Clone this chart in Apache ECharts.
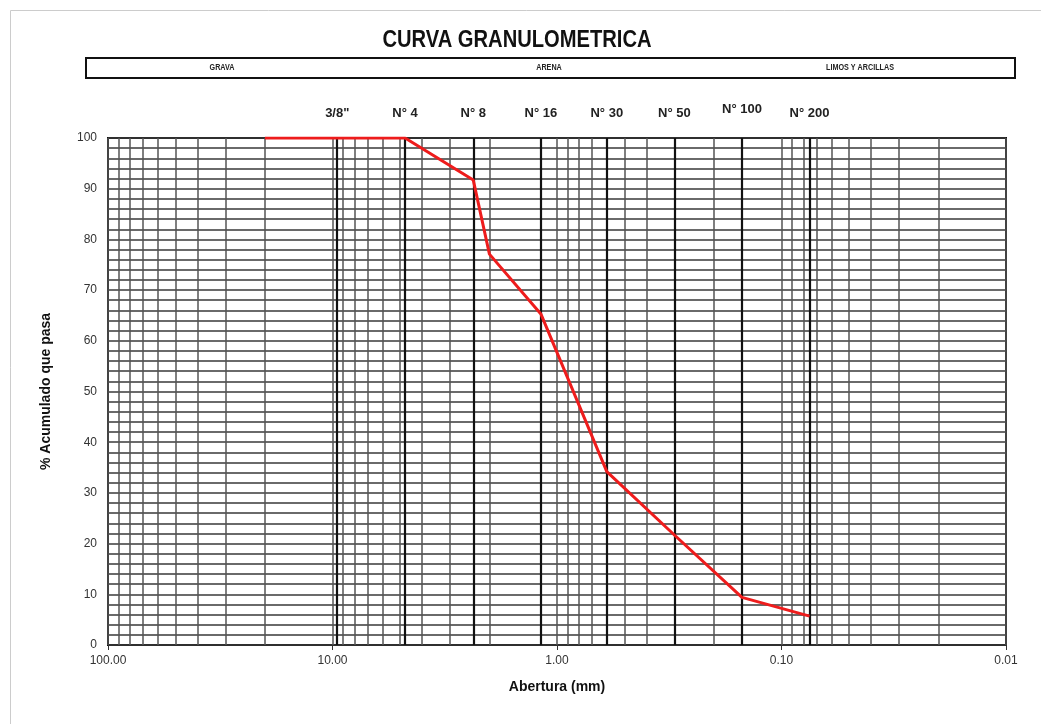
<!DOCTYPE html>
<html>
<head>
<meta charset="utf-8">
<style>html,body{margin:0;padding:0;background:#fff;}#c{width:1041px;height:724px;}</style>
<script src="https://cdn.jsdelivr.net/npm/echarts@6/dist/echarts.min.js"></script>
</head>
<body>
<div id="c"></div>
<script>
// Data
var sieveSizes = [20, 9.525, 4.75, 2.36, 2.0, 1.18, 0.6, 0.3, 0.15, 0.075];
var percentPassing = [100, 100, 100, 91.7, 77.1, 65.3, 34.2, 21.7, 9.4, 5.7];
var sieveLineSizes = [9.525, 4.75, 2.36, 1.18, 0.6, 0.3, 0.15, 0.075];
var sieveLabels = ['3/8"', 'N° 4', 'N° 8', 'N° 16', 'N° 30', 'N° 50', 'N° 100', 'N° 200'];
var xTickLabels = ['100.00', '10.00', '1.00', '0.10', '0.01'];
var yTicks = [0, 10, 20, 30, 40, 50, 60, 70, 80, 90, 100];
var bandLabels = ['GRAVA', 'ARENA', 'LIMOS Y ARCILLAS'];

var NARROW = "'Liberation Sans Narrow','Arial Narrow','Liberation Sans',Arial,sans-serif";

var minorVals = [];
[0.01, 0.1, 1, 10].forEach(function (b) {
  for (var m = 2; m <= 9; m++) minorVals.push(+(m * b).toPrecision(6));
});

var chart = echarts.init(document.getElementById('c'), null, {renderer: 'canvas'});
var lineData = sieveSizes.map(function (s, i) { return [s, percentPassing[i]]; });

chart.setOption({
  animation: false,
  backgroundColor: '#fff',
  grid: {left: 108, right: 35, top: 138, bottom: 79, show: true, borderColor: '#111', borderWidth: 2},
  xAxis: {
    type: 'log', logBase: 10, min: 0.01, max: 100, inverse: true,
    name: 'Abertura (mm)', nameLocation: 'middle', nameGap: 35,
    nameTextStyle: {fontFamily: NARROW, fontWeight: 'bold', fontSize: 14, color: '#111'},
    axisLine: {show: false},
    axisTick: {show: true, length: 5, lineStyle: {color: '#333'}},
    axisLabel: {
      color: '#333', fontFamily: NARROW, fontSize: 12, margin: 10,
      formatter: function (v) {
        var idx = Math.round(2 - Math.log10(v));
        return xTickLabels[idx] !== undefined ? xTickLabels[idx] : '';
      }
    },
    splitLine: {show: true, lineStyle: {color: '#555', width: 1.5}}
  },
  yAxis: {
    type: 'value', min: 0, max: 100, interval: 10,
    name: '% Acumulado que pasa', nameLocation: 'middle', nameGap: 55,
    nameTextStyle: {fontFamily: "'Liberation Sans',Arial,sans-serif", fontWeight: 'bold', fontSize: 14, color: '#111'},
    axisLine: {show: false},
    axisTick: {show: false},
    axisLabel: {
      color: '#333', fontFamily: NARROW, fontSize: 12, margin: 11,
      formatter: function (v) { return yTicks.indexOf(v) >= 0 ? String(v) : ''; }
    },
    splitLine: {show: true, lineStyle: {color: '#3a3a3a', width: 1.5}},
    minorTick: {show: false, splitNumber: 5},
    minorSplitLine: {show: true, lineStyle: {color: '#3a3a3a', width: 1.5}}
  },
  series: [
    {
      type: 'line', data: [], silent: true,
      markLine: {
        silent: true, symbol: 'none', animation: false, precision: 6,
        label: {show: false},
        lineStyle: {color: '#555', width: 1.5, type: 'solid'},
        data: minorVals.map(function (v) { return {xAxis: v}; })
      }
    },
    {
      type: 'line', data: [], silent: true,
      markLine: {
        silent: true, symbol: 'none', animation: false, precision: 6,
        lineStyle: {color: '#111', width: 2.2, type: 'solid'},
        label: {
          show: true, position: 'end', distance: 18,
          fontFamily: NARROW, fontSize: 13, fontWeight: 'bold', color: '#222'
        },
        data: sieveLineSizes.map(function (v, i) {
          return {xAxis: v, label: {formatter: sieveLabels[i], distance: i === 6 ? 22 : 18}};
        })
      }
    },
    {
      type: 'line', data: lineData, symbol: 'none', z: 10,
      lineStyle: {color: '#ee1c1c', width: 3}
    }
  ],
  graphic: [
    {type: 'rect', left: 8, top: 8, shape: {width: 1060, height: 760}, style: {fill: 'none', stroke: '#ccc', lineWidth: 1}, silent: true},
    {type: 'text', x: 517, y: 40, scaleX: 0.84, style: {text: 'CURVA GRANULOMETRICA', fontFamily: "'Liberation Sans',Arial,sans-serif", fontWeight: 'bold', fontSize: 24, fill: '#111', align: 'center', verticalAlign: 'middle'}},
    {type: 'rect', shape: {x: 86, y: 58, width: 929, height: 20}, style: {fill: '#fff', stroke: '#111', lineWidth: 2}},
    {type: 'text', x: 222, y: 68, scaleX: 0.8, style: {text: bandLabels[0], fontFamily: "'Liberation Sans',Arial,sans-serif", fontWeight: 'bold', fontSize: 9, fill: '#222', align: 'center', verticalAlign: 'middle'}},
    {type: 'text', x: 549, y: 68, scaleX: 0.8, style: {text: bandLabels[1], fontFamily: "'Liberation Sans',Arial,sans-serif", fontWeight: 'bold', fontSize: 9, fill: '#222', align: 'center', verticalAlign: 'middle'}},
    {type: 'text', x: 860, y: 68, scaleX: 0.8, style: {text: bandLabels[2], fontFamily: "'Liberation Sans',Arial,sans-serif", fontWeight: 'bold', fontSize: 9, fill: '#222', align: 'center', verticalAlign: 'middle'}}
  ]
});
</script>
</body>
</html>
